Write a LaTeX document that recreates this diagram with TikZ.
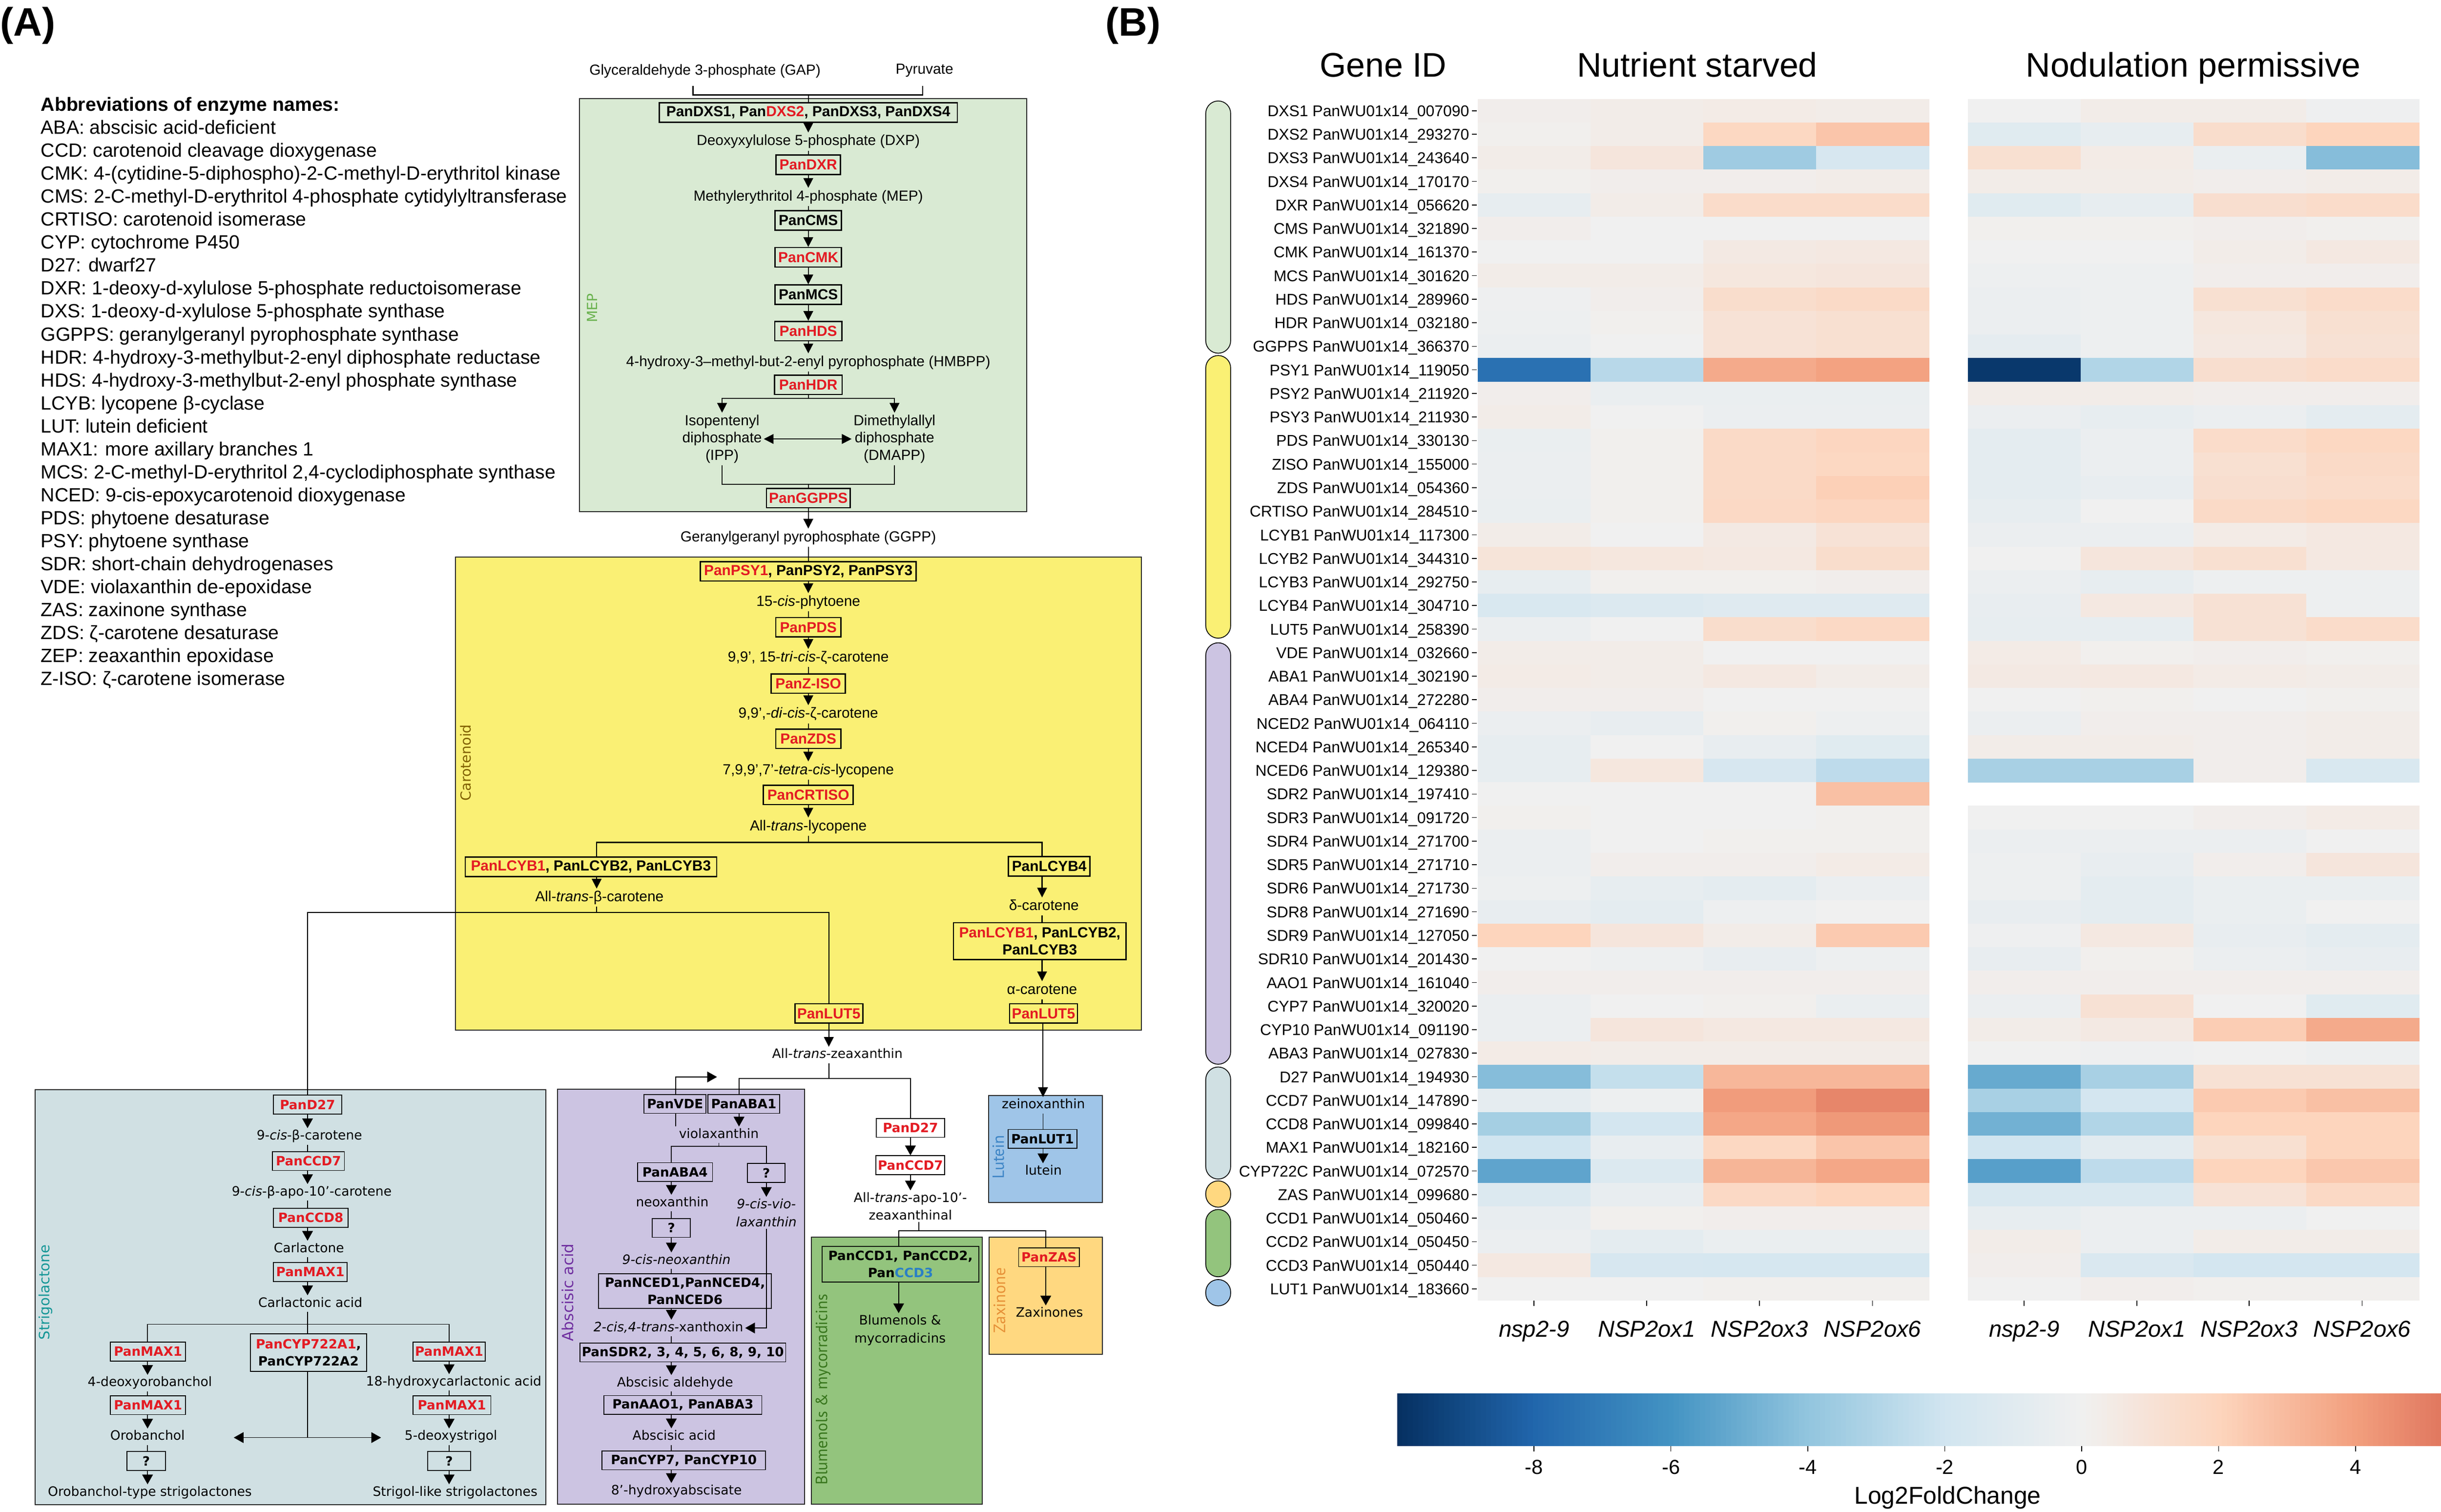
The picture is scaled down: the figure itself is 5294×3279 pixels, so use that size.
\documentclass[tikz,border=0pt]{standalone}
\usepackage{fontspec}
\setmainfont{Liberation Sans}
\newfontfamily\dvs{DejaVu Sans}
\newfontfamily\ptsans{PT Sans}
\usetikzlibrary{arrows.meta}
\definecolor{myred}{HTML}{E31B23}
\definecolor{myblue}{HTML}{2A7FC6}
\definecolor{mepg}{HTML}{D9EAD3}
\definecolor{caroy}{HTML}{FAF074}
\definecolor{strigc}{HTML}{D0E0E3}
\definecolor{abac}{HTML}{CCC4E2}
\definecolor{blumc}{HTML}{93C47D}
\definecolor{zaxc}{HTML}{FFD880}
\definecolor{lutc}{HTML}{9FC5E8}
\definecolor{hs0}{HTML}{053061}
\definecolor{hs1}{HTML}{2166AC}
\definecolor{hs2}{HTML}{4393C3}
\definecolor{hs3}{HTML}{92C5DE}
\definecolor{hs4}{HTML}{D1E5F0}
\definecolor{hs5}{HTML}{F0F0F0}
\definecolor{hs6}{HTML}{FDD5BD}
\definecolor{hs7}{HTML}{F29F7E}
\definecolor{hs8}{HTML}{D6604D}
\definecolor{hs9}{HTML}{B2182B}
\definecolor{hs10}{HTML}{67001F}
\newcommand\hmsetcolor[1]{%
  \pgfmathsetmacro\hmt{max(0,min(9.999,((#1)+10)/2))}%
  \pgfmathtruncatemacro\hmk{floor(\hmt)}%
  \pgfmathtruncatemacro\hmkk{\hmk+1}%
  \pgfmathsetmacro\hmf{100*(1-(\hmt-\hmk))}%
  \colorlet{hm}{hs\hmk!\hmf!hs\hmkk}}
\newcommand\hmcell[3]{%
  \pgfmathtruncatemacro\hmskip{(#3)>50 ? 1 : 0}%
  \ifnum\hmskip=0 \hmsetcolor{#3}\fill[hm] (#1,#2) rectangle ++(245.5,51.6);\fi}
\begin{document}
\begin{tikzpicture}[x=0.01cm,y=-0.01cm,
  mtu/.style={font=\fontsize{9}{10.8}\selectfont, inner sep=1pt, text height=6.8pt, text depth=2pt},
  mtum/.style={font=\fontsize{9}{10.8}\selectfont, inner sep=1pt, align=center},
  enzu/.style={draw, line width=0.8pt, font=\fontsize{9}{10.4}\selectfont\bfseries, inner xsep=0.05cm, inner ysep=0pt, minimum height=0.42cm, align=center},
  mtl/.style={font=\dvs\fontsize{8}{11}\selectfont, inner sep=1pt, text height=6pt, text depth=1.8pt},
  mtlm/.style={font=\dvs\fontsize{8}{11}\selectfont, inner sep=1pt, align=center},
  enzl/.style={draw, line width=0.55pt, font=\dvs\bfseries\fontsize{7.9}{10.6}\selectfont, inner xsep=0.04cm, inner ysep=0pt, minimum height=0.41cm, align=center},
  con/.style={line width=0.65pt},
  arr/.style={con, -{Triangle[length=6pt,width=6pt]}},
  lcon/.style={line width=0.5pt},
  larr/.style={lcon, -{Triangle[length=6pt,width=6.6pt]}},
  region/.style={draw=black!85, line width=0.6pt},
  vlab/.style={rotate=90, inner sep=0pt},
  gl/.style={font=\fontsize{9.6}{11}\selectfont, inner sep=0pt, anchor=base east},
]
\useasboundingbox (0,0) rectangle (5294,3279);
\fill[white] (0,0) rectangle (5294,3279);

% ---------- panel labels ----------
\node[font=\fontsize{24.5}{28}\selectfont\bfseries, inner sep=0pt, anchor=base west] (pa) at (0,78) {(A)};
\node[font=\fontsize{24.5}{28}\selectfont\bfseries, inner sep=0pt, anchor=base west] (pb) at (2397,78) {(B)};

% ---------- abbreviations ----------
\node[font=\fontsize{11.8}{14.17}\selectfont, align=left, anchor=north west, inner sep=0pt] (abbr) at (88,210) {%
\textbf{Abbreviations of enzyme names:}\\
ABA: abscisic acid-deficient\\
CCD: carotenoid cleavage dioxygenase\\
CMK: 4-(cytidine-5-diphospho)-2-C-methyl-D-erythritol kinase\\
CMS: 2-C-methyl-D-erythritol 4-phosphate cytidylyltransferase\\
CRTISO: carotenoid isomerase\\
CYP: cytochrome P450\\
D27: dwarf27\\
DXR: 1-deoxy-d-xylulose 5-phosphate reductoisomerase\\
DXS: 1-deoxy-d-xylulose 5-phosphate synthase\\
GGPPS: geranylgeranyl pyrophosphate synthase\\
HDR: 4-hydroxy-3-methylbut-2-enyl diphosphate reductase\\
HDS: 4-hydroxy-3-methylbut-2-enyl phosphate synthase\\
LCYB: lycopene β-cyclase\\
LUT: lutein deficient\\
MAX1: more axillary branches 1\\
MCS: 2-C-methyl-D-erythritol 2,4-cyclodiphosphate synthase\\
NCED: 9-cis-epoxycarotenoid dioxygenase\\
PDS: phytoene desaturase\\
PSY: phytoene synthase\\
SDR: short-chain dehydrogenases\\
VDE: violaxanthin de-epoxidase\\
ZAS: zaxinone synthase\\
ZDS: ζ-carotene desaturase\\
ZEP: zeaxanthin epoxidase\\
Z-ISO: ζ-carotene isomerase};

% ---------- region boxes ----------
\filldraw[region, fill=mepg] (1257,214) rectangle (2227,1110);
\filldraw[region, fill=caroy] (988,1208) rectangle (2475,2234);
\filldraw[region, fill=strigc] (76,2363) rectangle (1183.6,3263);
\filldraw[region, fill=abac] (1209,2362.5) rectangle (1745,3262.5);
\filldraw[region, fill=blumc] (1759.6,2682.5) rectangle (2130.8,3262.5);
\filldraw[region, fill=zaxc] (2144.6,2682.5) rectangle (2390.4,2937.5);
\filldraw[region, fill=lutc] (2143.8,2376) rectangle (2390.4,2607.5);

\node[vlab, font=\dvs\fontsize{8.6}{10}\selectfont, text={rgb,255:red,106;green,178;blue,79}] (mepl) at (1284,668) {MEP};
\node[vlab, font=\dvs\fontsize{8.6}{10}\selectfont, text={rgb,255:red,128;green,96;blue,0}] (carl) at (1010,1654) {Carotenoid};
\node[vlab, font=\dvs\fontsize{8.8}{10}\selectfont, text={rgb,255:red,20;green,150;blue,150}] (strl) at (98.5,2802.6) {Strigolactone};
\node[vlab, font=\dvs\fontsize{9.4}{10}\selectfont, text={rgb,255:red,112;green,48;blue,160}] (abal) at (1231,2803) {Abscisic acid};
\node[vlab, font=\ptsans\fontsize{10}{12}\selectfont, text={rgb,255:red,56;green,118;blue,29}] (bluml) at (1785,3013) {Blumenols \& mycorradicins};
\node[vlab, font=\ptsans\fontsize{10.2}{12}\selectfont, text={rgb,255:red,230;green,145;blue,56}] (zaxl) at (2168.5,2820) {Zaxinone};
\node[vlab, font=\ptsans\fontsize{10}{12}\selectfont, text={rgb,255:red,61;green,133;blue,198}] (lutl) at (2165,2509) {Lutein};

% ---------- spine coordinates ----------
\coordinate (xM) at (1753,0);
\coordinate (xB) at (1294,0);
\coordinate (xA) at (2260,0);
\coordinate (xS) at (667,0);
\coordinate (xSL) at (320,0);
\coordinate (xSR) at (974,0);
\coordinate (xABA) at (1456,0);
\coordinate (xV) at (1465.5,0);
\coordinate (xA1) at (1602.7,0);
\coordinate (x9v) at (1662,0);
\coordinate (xD) at (1974.5,0);
\coordinate (xBl) at (1949,0);
\coordinate (xZs) at (2268,0);
\coordinate (xL) at (2262,0);

% ---------- MEP pathway ----------
\node[mtu] (gap) at (1529,154) {Glyceraldehyde 3-phosphate (GAP)};
\node[mtu] (pyr) at (2005,152) {Pyruvate};
\coordinate (b1) at (1503,186);
\coordinate (b2) at (2001,186);
\coordinate (gj) at (1753,206);
\node[enzu, minimum width=6.46cm] (dxs) at (1753,244) {PanDXS1, Pan\textcolor{myred}{DXS2}, PanDXS3, PanDXS4};
\node[mtu] (dxp) at (1753,307) {Deoxyxylulose 5-phosphate (DXP)};
\node[enzu, minimum width=1.4cm, text=myred] (dxr) at (1753,357.5) {PanDXR};
\node[mtu] (mep) at (1753,427) {Methylerythritol 4-phosphate (MEP)};
\node[enzu, minimum width=1.44cm] (cms) at (1753,478) {PanCMS};
\node[enzu, minimum width=1.44cm, text=myred] (cmk) at (1753,558) {PanCMK};
\node[enzu, minimum width=1.44cm] (mcs) at (1753,639) {PanMCS};
\node[enzu, minimum width=1.45cm, text=myred] (hds) at (1753,718) {PanHDS};
\node[mtu] (hmbpp) at (1753,786) {4-hydroxy-3–methyl-but-2-enyl pyrophosphate (HMBPP)};
\node[enzu, minimum width=1.47cm, text=myred] (hdr) at (1753,834.5) {PanHDR};
\node[mtum] (ipp) at (1566,952) {Isopentenyl\\diphosphate\\(IPP)};
\node[mtum] (dmapp) at (1940,952) {Dimethylallyl\\diphosphate\\(DMAPP)};
\node[enzu, minimum width=1.81cm, text=myred] (ggpps) at (1753,1080) {PanGGPPS};
\node[mtu] (ggpp) at (1753,1166) {Geranylgeranyl pyrophosphate (GGPP)};

\draw[con] (b1) |- (gj) -| (b2);
\draw[con] (gj) -- (dxs.north);
\draw[arr] (dxs.south) -- (dxp.north);
\draw[con] (dxp.south) -- (dxr.north);
\draw[arr] (dxr.south) -- (mep.north);
\draw[con] (mep.south) -- (cms.north);
\draw[arr] (cms.south) -- (cmk.north);
\draw[arr] (cmk.south) -- (mcs.north);
\draw[arr] (mcs.south) -- (hds.north);
\draw[arr] (hds.south) -- (hmbpp.north);
\draw[con] (hmbpp.south) -- (hdr.north);
\coordinate (hj) at (1753,864);
\draw[con] (hdr.south) -- (hj);
\draw[arr] (hj) -| (ipp.north);
\draw[arr] (hj) -| (dmapp.north);
\draw[con, {Triangle[length=6pt,width=6pt]}-{Triangle[length=6pt,width=6pt]}] (ipp.east) -- (dmapp.west);
\coordinate (gj2) at (1753,1050.6);
\draw[con] (ipp.south) |- (gj2) -| (dmapp.south);
\draw[con] (gj2) -- (ggpps.north);
\draw[arr] (ggpps.south) -- (ggpp.north);

% ---------- Carotenoid ----------
\node[enzu, minimum width=4.68cm] (psy) at (1753,1239) {\textcolor{myred}{PanPSY1}, PanPSY2, PanPSY3};
\node[mtu] (phyt) at (1753,1306) {15-\textit{cis}-phytoene};
\node[enzu, minimum width=1.41cm, text=myred] (pds) at (1753,1360.5) {PanPDS};
\node[mtu] (tri) at (1753,1427) {9,9’, 15-\textit{tri}-\textit{cis}-ζ-carotene};
\node[enzu, minimum width=1.61cm, text=myred] (ziso) at (1753,1482.5) {PanZ-ISO};
\node[mtu] (dicis) at (1753,1549) {9,9’,-\textit{di}-\textit{cis}-ζ-carotene};
\node[enzu, minimum width=1.41cm, text=myred] (zds) at (1753,1602) {PanZDS};
\node[mtu] (tetra) at (1753,1671) {7,9,9’,7’-\textit{tetra}-\textit{cis}-lycopene};
\node[enzu, minimum width=1.95cm, text=myred] (crtiso) at (1753,1724) {PanCRTISO};
\node[mtu] (lyc) at (1753,1792.6) {All-\textit{trans}-lycopene};
\node[enzu, minimum width=5.45cm] (lcyb) at (1281.5,1880) {\textcolor{myred}{PanLCYB1}, PanLCYB2, PanLCYB3};
\node[enzu, minimum width=1.77cm] (lcyb4) at (2275.5,1879) {PanLCYB4};
\node[mtu] (bcar) at (1300,1946.7) {All-\textit{trans}-β-carotene};
\node[mtu] (dcar) at (2264,1966) {δ-carotene};
\node[enzu, minimum width=3.74cm, minimum height=0.795cm] (lcybb) at (2255,2041) {\textcolor{myred}{PanLCYB1}, PanLCYB2,\\PanLCYB3};
\node[mtu] (acar) at (2260,2147.6) {α-carotene};
\node[enzu, minimum width=1.47cm, text=myred] (lut5a) at (1797.5,2198) {PanLUT5};
\node[enzu, minimum width=1.46cm, text=myred] (lut5b) at (2263,2198) {PanLUT5};

\draw[con] (ggpp.south) -- (psy.north);
\draw[arr] (psy.south) -- (phyt.north);
\draw[con] (phyt.south) -- (pds.north);
\draw[arr] (pds.south) -- (tri.north -| xM);
\draw[con] (tri.south -| xM) -- (ziso.north);
\draw[arr] (ziso.south) -- (dicis.north -| xM);
\draw[con] (dicis.south -| xM) -- (zds.north);
\draw[arr] (zds.south) -- (tetra.north);
\draw[con] (tetra.south) -- (crtiso.north);
\draw[arr] (crtiso.south) -- (lyc.north);
\coordinate (lj) at (1753,1827);
\draw[con] (lyc.south) -- (lj);
\draw[con] (lj) -| (lcyb.north -| xB);
\draw[con] (lj) -| (lcyb4.north -| xA);
\draw[arr] (lcyb.south -| xB) -- (bcar.north -| xB);
\draw[arr] (lcyb4.south -| xA) -- (dcar.north -| xA);
\draw[con] (dcar.south -| xA) -- (lcybb.north -| xA);
\draw[arr] (lcybb.south -| xA) -- (acar.north -| xA);
\draw[con] (acar.south -| xA) -- (lut5b.north -| xA);
\coordinate (bj) at (1294,1978.6);
\draw[con] (bcar.south -| xB) -- (bj);
\draw[con] (bj) -| (lut5a.north);

% ---------- zeaxanthin ----------
\node[mtl] (zea) at (1816,2288) {All-\textit{trans}-zeaxanthin};
\draw[arr] (lut5a.south) -- (zea.north -| lut5a);
\coordinate (zj) at (1797.5,2339);
\draw[lcon] (zea.south -| lut5a) -- (zj);

% ---------- Strigolactone ----------
\node[enzl, minimum width=1.476cm, text=myred] (sd27) at (667,2395.7) {PanD27};
\node[mtl] (c9) at (671,2464.5) {9-\textit{cis}-β-carotene};
\node[enzl, minimum width=1.56cm, text=myred] (sccd7) at (669,2518) {PanCCD7};
\node[mtl] (apo10) at (676,2585.7) {9-\textit{cis}-β-apo-10’-carotene};
\node[enzl, minimum width=1.615cm, text=myred] (sccd8) at (674,2641) {PanCCD8};
\node[mtl] (carl) at (670,2708.7) {Carlactone};
\node[enzl, minimum width=1.6cm, text=myred] (smax) at (673,2758.7) {PanMAX1};
\node[mtl] (cacid) at (673,2827) {Carlactonic acid};
\node[enzl, minimum width=2.524cm, minimum height=0.815cm] (cyp722) at (669,2933) {\textcolor{myred}{PanCYP722A1},\\PanCYP722A2};
\node[enzl, minimum width=1.633cm, text=myred] (lmax1) at (321,2931) {PanMAX1};
\node[mtl] (deoxo) at (325,2999.5) {4-deoxyorobanchol};
\node[enzl, minimum width=1.633cm, text=myred] (lmax2) at (321,3047.4) {PanMAX1};
\node[mtl] (orob) at (320,3116) {Orobanchol};
\node[enzl, minimum width=0.835cm] (lq) at (317,3168.5) {?};
\node[mtl] (orobt) at (325,3237) {Orobanchol-type strigolactones};
\node[enzl, minimum width=1.556cm, text=myred] (rmax1) at (974,2931) {PanMAX1};
\node[mtl] (hcl) at (984,2998) {18-hydroxycarlactonic acid};
\node[enzl, minimum width=1.69cm, text=myred] (rmax2) at (980,3047.4) {PanMAX1};
\node[mtl] (deos) at (978,3116) {5-deoxystrigol};
\node[enzl, minimum width=0.937cm] (rq) at (974,3168.5) {?};
\node[mtl] (strig) at (987,3237) {Strigol-like strigolactones};

\draw[con] (bj) -| (sd27.north);
\draw[larr] (sd27.south -| xS) -- (c9.north -| xS);
\draw[lcon] (c9.south -| xS) -- (sccd7.north -| xS);
\draw[larr] (sccd7.south -| xS) -- (apo10.north -| xS);
\draw[lcon] (apo10.south -| xS) -- (sccd8.north -| xS);
\draw[larr] (sccd8.south -| xS) -- (carl.north -| xS);
\draw[lcon] (carl.south -| xS) -- (smax.north -| xS);
\draw[larr] (smax.south -| xS) -- (cacid.north -| xS);
\coordinate (cj) at (667,2872);
\draw[lcon] (cacid.south -| xS) -- (cj);
\draw[lcon] (cj) -- (cyp722.north -| xS);
\draw[lcon] (cj) -| (lmax1.north -| xSL);
\draw[lcon] (cj) -| (rmax1.north -| xSR);
\draw[larr] (lmax1.south -| xSL) -- (deoxo.north -| xSL);
\draw[lcon] (deoxo.south -| xSL) -- (lmax2.north -| xSL);
\draw[larr] (lmax2.south -| xSL) -- (orob.north -| xSL);
\draw[lcon] (orob.south -| xSL) -- (lq.north -| xSL);
\draw[larr] (lq.south -| xSL) -- (orobt.north -| xSL);
\draw[larr] (rmax1.south -| xSR) -- (hcl.north -| xSR);
\draw[lcon] (hcl.south -| xSR) -- (rmax2.north -| xSR);
\draw[larr] (rmax2.south -| xSR) -- (deos.north -| xSR);
\draw[lcon] (deos.south -| xSR) -- (rq.north -| xSR);
\draw[larr] (rq.south -| xSR) -- (strig.north -| xSR);
\coordinate (dj) at (667,3117.7);
\coordinate (dl) at (507,3117.7);
\coordinate (dr) at (826.4,3117.7);
\draw[lcon] (cyp722.south -| xS) -- (dj);
\draw[larr] (dj) -- (dl);
\draw[larr] (dj) -- (dr);

% ---------- Abscisic acid ----------
\node[enzl, minimum width=1.34cm] (vde) at (1464,2394) {PanVDE};
\node[enzl, minimum width=1.557cm] (aba1) at (1613,2394) {PanABA1};
\node[mtl] (viola) at (1559,2461) {violaxanthin};
\node[enzl, minimum width=1.624cm] (aba4) at (1464,2542) {PanABA4};
\node[enzl, minimum width=0.816cm] (q2) at (1662,2543.5) {?};
\node[mtl] (neox) at (1458,2609) {neoxanthin};
\node[mtlm] (cv) at (1662,2630) {\textit{9-cis-vio-}\\\textit{laxanthin}};
\node[enzl, minimum width=0.83cm] (q1) at (1456,2663) {?};
\node[mtl] (ncn) at (1467,2734) {\textit{9-cis-neoxanthin}};
\node[enzl, minimum width=3.744cm, minimum height=0.75cm] (nced) at (1485.6,2800) {PanNCED1,PanNCED4,\\PanNCED6};
\node[mtl] (xan) at (1449.6,2880) {\textit{2-cis,4-trans-}xanthoxin};
\node[enzl, minimum width=4.285cm] (sdr) at (1481,2933) {PanSDR2, 3, 4, 5, 6, 8, 9, 10};
\node[mtl] (ald) at (1464,3000) {Abscisic aldehyde};
\node[enzl, minimum width=3.424cm] (aao) at (1481,3047) {PanAAO1, PanABA3};
\node[mtl] (aa) at (1462,3115.6) {Abscisic acid};
\node[enzl, minimum width=3.54cm] (cyp) at (1483,3167) {PanCYP7, PanCYP10};
\node[mtl] (hx) at (1467,3234) {8’-hydroxyabscisate};

\draw[lcon] (zj) -| (aba1.north -| xA1);
\draw[larr] (aba1.south -| xA1) -- (viola.north -| xA1);
\coordinate (ve) at (1555,2335.6);
\draw[lcon] (viola.north -| xV) -- (vde.south -| xV);
\draw[larr] (vde.north -| xV) |- (ve);
\coordinate (vj) at (1559,2486);
\draw[lcon] (viola.south) -- (vj);
\draw[lcon] (vj) -| (aba4.north -| xABA);
\draw[lcon] (vj) -| (q2.north -| x9v);
\draw[larr] (aba4.south -| xABA) -- (neox.north -| xABA);
\draw[larr] (q2.south -| x9v) -- (cv.north -| x9v);
\draw[lcon] (neox.south -| xABA) -- (q1.north -| xABA);
\draw[larr] (q1.south -| xABA) -- (ncn.north -| xABA);
\draw[lcon] (ncn.south -| xABA) -- (nced.north -| xABA);
\draw[larr] (nced.south -| xABA) -- (xan.north -| xABA);
\draw[larr] (cv.south -| x9v) |- (xan.east);
\draw[lcon] (xan.south -| xABA) -- (sdr.north -| xABA);
\draw[larr] (sdr.south -| xABA) -- (ald.north -| xABA);
\draw[lcon] (ald.south -| xABA) -- (aao.north -| xABA);
\draw[larr] (aao.south -| xABA) -- (aa.north -| xABA);
\draw[lcon] (aa.south -| xABA) -- (cyp.north -| xABA);
\draw[larr] (cyp.south -| xABA) -- (hx.north -| xABA);

% ---------- CCD branch ----------
\node[enzl, minimum width=1.48cm, text=myred, fill=white] (ld27) at (1974.5,2446) {PanD27};
\node[enzl, minimum width=1.48cm, text=myred, fill=white] (lccd7) at (1974.5,2527) {PanCCD7};
\node[mtlm] (apo) at (1974.5,2616) {All-\textit{trans}-apo-10’-\\zeaxanthinal};
\node[enzl, minimum width=3.4cm, minimum height=0.77cm] (ccd) at (1953,2741.5) {PanCCD1, PanCCD2,\\Pan\textcolor{myblue}{CCD3}};
\node[mtlm] (blum) at (1952,2885) {Blumenols \&\\mycorradicins};
\node[enzl, minimum width=1.317cm, text=myred] (zas) at (2275,2726.5) {PanZAS};
\node[mtl] (zaxs) at (2276,2849) {Zaxinones};
\node[mtl] (zein) at (2263,2397) {zeinoxanthin};
\node[enzl, minimum width=1.487cm] (lut1) at (2261,2470) {PanLUT1};
\node[mtl] (lutein) at (2263,2540.6) {lutein};

\draw[lcon] (zj) -| (ld27.north);
\draw[larr] (ld27.south) -- (lccd7.north);
\draw[larr] (lccd7.south) -- (apo.north);
\coordinate (aj) at (1992.5,2669);
\draw[lcon] (apo.south -| aj) -- (aj);
\draw[lcon] (aj) -| (ccd.north -| xBl);
\draw[lcon] (aj) -| (zas.north -| xZs);
\draw[larr] (ccd.south -| xBl) -- (blum.north -| xBl);
\draw[larr] (zas.south -| xZs) -- (zaxs.north -| xZs);
\draw[arr] (lut5b.south -| xL) -- (zein.north -| xL);
\draw[lcon] (zein.south -| xL) -- (lut1.north -| xL);
\draw[larr] (lut1.south -| xL) -- (lutein.north -| xL);

% ---------- Panel B: heatmap ----------
\node[font=\fontsize{21}{24}\selectfont, inner sep=0pt, anchor=base] (hgene) at (3000,167) {Gene ID};
\node[font=\fontsize{21}{24}\selectfont, inner sep=0pt, anchor=base] (hns) at (3681,167) {Nutrient starved};
\node[font=\fontsize{21}{24}\selectfont, inner sep=0pt, anchor=base] (hnp) at (4757,167) {Nodulation permissive};

\foreach \lab/\va/\vb/\vc/\vd/\ve/\vf/\vg/\vh [count=\i from 0] in {
DXS1 PanWU01x14\_007090/0.2/0.3/0.4/0.3/0/0.3/0.3/-0.1,
DXS2 PanWU01x14\_293270/0.1/0.3/1.8/2.6/-1.0/-0.6/1.4/2.0,
DXS3 PanWU01x14\_243640/0.3/0.8/-3.6/-1.6/1.2/0.4/-0.4/-4.3,
DXS4 PanWU01x14\_170170/0.1/0.2/0.2/0.3/0.3/0.3/0.2/0.3,
DXR PanWU01x14\_056620/-0.6/0.3/1.5/1.5/-1.0/-0.6/1.3/1.5,
CMS PanWU01x14\_321890/0.2/0/0/0/0.1/0.1/0.2/0.1,
CMK PanWU01x14\_161370/0/0/0.5/0.6/0/0/0.3/0.6,
MCS PanWU01x14\_301620/0.3/0.3/0.7/0.8/-0.2/-0.2/0.2/0.2,
HDS PanWU01x14\_289960/-0.1/0.2/1.4/1.6/-0.3/-0.2/1.2/1.5,
HDR PanWU01x14\_032180/-0.2/0.1/1.0/1.2/-0.3/-0.2/0.7/1.2,
GGPPS PanWU01x14\_366370/-0.3/0/1.0/1.2/-0.7/-0.2/0.6/1.1,
PSY1 PanWU01x14\_119050/-7.5/-2.8/3.6/3.9/-9.7/-3.0/1.3/1.5,
PSY2 PanWU01x14\_211920/0.2/-0.4/-0.4/-0.4/0.3/0.3/0.2/0.2,
PSY3 PanWU01x14\_211930/0.3/0/-0.3/-0.3/-0.3/-0.6/-0.3/-0.8,
PDS PanWU01x14\_330130/-0.4/0.1/1.6/1.9/-0.8/-0.3/1.5/1.8,
ZISO PanWU01x14\_155000/-0.3/0.1/1.6/1.8/-0.8/-0.3/1.2/1.6,
ZDS PanWU01x14\_054360/-0.3/0.1/1.6/2.2/-0.8/-0.5/1.3/1.5,
CRTISO PanWU01x14\_284510/-0.4/0.1/1.7/1.9/-0.6/0/1.6/1.8,
LCYB1 PanWU01x14\_117300/0.3/0/0.5/1.0/-0.3/-0.3/0.4/0.6,
LCYB2 PanWU01x14\_344310/0.9/0.7/0.6/1.4/0/0.8/1.2/0.6,
LCYB3 PanWU01x14\_292750/-0.6/0.1/0.1/0.2/-0.3/-0.6/-0.2/-0.2,
LCYB4 PanWU01x14\_304710/-1.5/-1.3/-1.1/-1.1/-0.5/0.6/1.1/-0.2,
LUT5 PanWU01x14\_258390/-0.3/0/1.4/1.7/-0.6/-0.6/1.1/1.5,
VDE PanWU01x14\_032660/0.3/0.3/0/0/0.4/0.1/0.2/0.1,
ABA1 PanWU01x14\_302190/0.4/0.3/0.6/0.3/0.5/0.6/0.4/0.3,
ABA4 PanWU01x14\_272280/0.2/0.2/0/0/0/0.1/0/0.1,
NCED2 PanWU01x14\_064110/-0.3/-0.5/0.1/-0.2/-0.3/0.2/0.2/0.3,
NCED4 PanWU01x14\_265340/-0.6/0/-0.5/-1.0/0.3/0.3/0.2/0.3,
NCED6 PanWU01x14\_129380/-0.6/0.7/-1.6/-2.6/-3.3/-3.3/0.2/-1.5,
SDR2 PanWU01x14\_197410/0/0/0/2.8/99/99/99/99,
SDR3 PanWU01x14\_091720/0.1/0/0/0.1/0/0/0.2/0.4,
SDR4 PanWU01x14\_271700/-0.3/0/0.1/0.1/-0.3/-0.3/-0.3/0,
SDR5 PanWU01x14\_271710/-0.3/0.2/0.2/0.4/-0.2/-0.5/0.2/0.8,
SDR6 PanWU01x14\_271730/-0.2/-0.6/-0.8/-0.3/-0.2/-0.8/-0.4/-0.4,
SDR8 PanWU01x14\_271690/-0.5/-0.8/-0.2/0/-0.5/-0.8/-0.4/0,
SDR9 PanWU01x14\_127050/2.0/0.8/0.3/2.4/-0.1/0.6/-0.5/-0.8,
SDR10 PanWU01x14\_201430/0/-0.2/-0.5/-0.2/-0.5/0.1/-0.3/-0.5,
AAO1 PanWU01x14\_161040/0.2/0.2/0.2/0.2/0.2/0.2/0.2/0.2,
CYP7 PanWU01x14\_320020/-0.3/0/0.1/-0.4/-0.3/1.1/0/-1.0,
CYP10 PanWU01x14\_091190/-0.3/0.8/0.6/0.6/0.3/0.5/2.3/3.6,
ABA3 PanWU01x14\_027830/0.4/0.3/0.3/0.3/0/-0.1/0/-0.2,
D27 PanWU01x14\_194930/-4.3/-2.4/3.1/3.1/-5.1/-3.3/1.1/1.1,
CCD7 PanWU01x14\_147890/-0.7/-0.2/4.1/4.8/-3.3/-1.8/2.4/2.8,
CCD8 PanWU01x14\_099840/-3.4/-1.8/3.7/4.2/-4.8/-3.0/2.0/2.0,
MAX1 PanWU01x14\_182160/-2.0/-0.5/1.8/2.6/-2.0/-0.9/1.2/2.0,
CYP722C PanWU01x14\_072570/-5.3/-1.3/3.2/3.7/-5.5/-2.6/2.0/2.5,
ZAS PanWU01x14\_099680/-1.3/-0.5/1.7/2.0/-1.5/-1.5/1.0/1.7,
CCD1 PanWU01x14\_050460/-0.5/0.1/0.2/0.2/-0.6/-0.3/-0.3/0,
CCD2 PanWU01x14\_050450/-0.3/-0.8/-0.4/-0.4/0.3/-0.3/0.3/0.3,
CCD3 PanWU01x14\_050440/0.6/-1.6/-1.7/-1.7/0.2/-1.4/-1.8/-1.8,
LUT1 PanWU01x14\_183660/0/0/0.1/0.1/0/0.2/0.1/0.1}{
  \pgfmathsetmacro\yt{214.5+\i*51.1}
  \node[gl] (gl\i) at (3187,\yt+37.8) {\lab};
  \draw[line width=0.5pt] (3192,\yt+25.55) -- (3203,\yt+25.55);
  \hmcell{3205}{\yt}{\va}
  \hmcell{3449.5}{\yt}{\vb}
  \hmcell{3694}{\yt}{\vc}
  \hmcell{3938.5}{\yt}{\vd}
  \hmcell{4268}{\yt}{\ve}
  \hmcell{4512.5}{\yt}{\vf}
  \hmcell{4757}{\yt}{\vg}
  \hmcell{5001.5}{\yt}{\vh}
}

% category pills
\draw[line width=0.5pt, fill=mepg, rounded corners=0.27cm] (2615,219) rectangle (2669,766);
\draw[line width=0.5pt, fill=caroy, rounded corners=0.27cm] (2615,771) rectangle (2669,1384);
\draw[line width=0.5pt, fill=abac, rounded corners=0.27cm] (2615,1394) rectangle (2669,2308);
\draw[line width=0.5pt, fill=strigc, rounded corners=0.27cm] (2615,2314) rectangle (2669,2557);
\draw[line width=0.5pt, fill=zaxc, rounded corners=0.27cm] (2615,2561) rectangle (2669,2618);
\draw[line width=0.5pt, fill=blumc, rounded corners=0.27cm] (2615,2623) rectangle (2669,2769);
\draw[line width=0.5pt, fill=lutc, rounded corners=0.27cm] (2615,2775) rectangle (2669,2832);

% column ticks and labels
\foreach \cx/\cl [count=\j] in {3327/nsp2-9, 3571/NSP2ox1, 3816/NSP2ox3, 4061/NSP2ox6, 4390/nsp2-9, 4634/NSP2ox1, 4878/NSP2ox3, 5123/NSP2ox6}{
  \draw[line width=0.5pt] (\cx,2821) -- (\cx,2832);
  \node[font=\fontsize{14.2}{16}\selectfont\itshape, inner sep=0pt, anchor=base] (col\j) at (\cx,2900) {\cl};
}

% colour bar
\foreach \k in {0,...,199}{
  \pgfmathsetmacro\vv{-10+(\k+0.5)*15.25/200}
  \hmsetcolor{\vv}
  \fill[hm] (3030+\k*11.32,3022) rectangle ++(12.4,114);
}
\foreach \tv [count=\j] in {-8,-6,-4,-2,0,2,4}{
  \draw[line width=0.5pt] (4514.6+\tv*148.46,3136) -- (4514.6+\tv*148.46,3148);
  \node[font=\fontsize{12.5}{14}\selectfont, inner sep=0pt, anchor=base] (cb\j) at (4514.6+\tv*148.46,3197) {\tv};
}
\node[font=\fontsize{15}{17}\selectfont, inner sep=0pt, anchor=base] (cbt) at (4224,3262) {Log2FoldChange};
\end{tikzpicture}
\end{document}
